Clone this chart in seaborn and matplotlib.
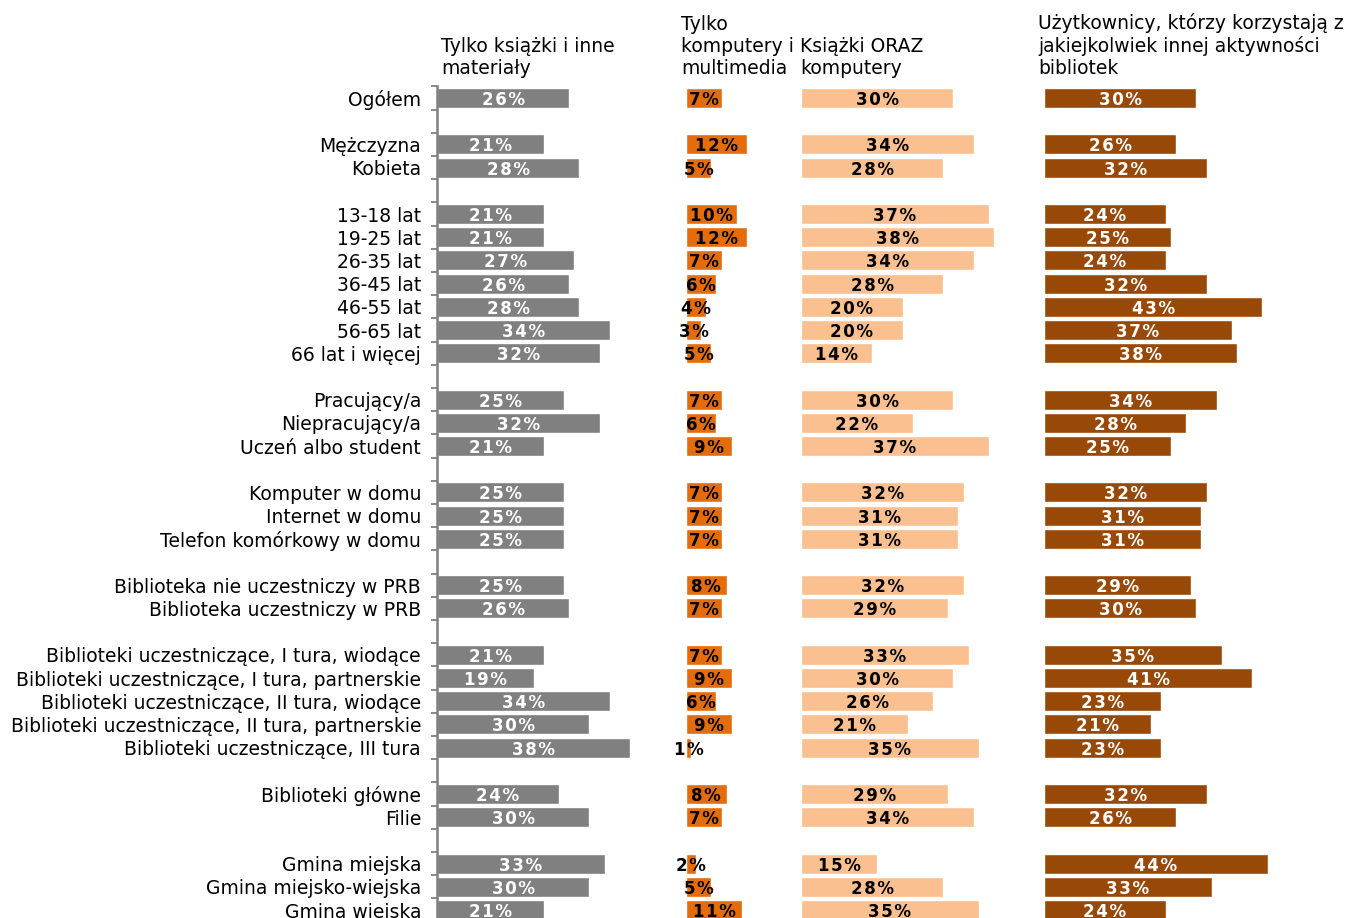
import numpy as np
import pandas as pd
import seaborn as sns
import matplotlib.pyplot as plt

# Row labels, "" marks an empty spacer row
categories = [
    "Ogółem", "",
    "Mężczyzna", "Kobieta", "",
    "13-18 lat", "19-25 lat", "26-35 lat", "36-45 lat", "46-55 lat", "56-65 lat", "66 lat i więcej", "",
    "Pracujący/a", "Niepracujący/a", "Uczeń albo student", "",
    "Komputer w domu", "Internet w domu", "Telefon komórkowy w domu", "",
    "Biblioteka nie uczestniczy w PRB", "Biblioteka uczestniczy w PRB", "",
    "Biblioteki uczestniczące, I tura, wiodące", "Biblioteki uczestniczące, I tura, partnerskie",
    "Biblioteki uczestniczące, II tura, wiodące", "Biblioteki uczestniczące, II tura, partnerskie",
    "Biblioteki uczestniczące, III tura", "",
    "Biblioteki główne", "Filie", "",
    "Gmina miejska", "Gmina miejsko-wiejska", "Gmina wiejska",
]

books_only = [26, None, 21, 28, None, 21, 21, 27, 26, 28, 34, 32, None, 25, 32, 21, None,
              25, 25, 25, None, 25, 26, None, 21, 19, 34, 30, 38, None, 24, 30, None, 33, 30, 21]
computers_only = [7, None, 12, 5, None, 10, 12, 7, 6, 4, 3, 5, None, 7, 6, 9, None,
                  7, 7, 7, None, 8, 7, None, 7, 9, 6, 9, 1, None, 8, 7, None, 2, 5, 11]
books_and_computers = [30, None, 34, 28, None, 37, 38, 34, 28, 20, 20, 14, None, 30, 22, 37, None,
                       32, 31, 31, None, 32, 29, None, 33, 30, 26, 21, 35, None, 29, 34, None, 15, 28, 35]
other_activity = [30, None, 26, 32, None, 24, 25, 24, 32, 43, 37, 38, None, 34, 28, 25, None,
                  32, 31, 31, None, 29, 30, None, 35, 41, 23, 21, 23, None, 32, 26, None, 44, 33, 24]

panel_titles = [
    "Tylko książki i inne\nmateriały",
    "Tylko\nkomputery i\nmultimedia",
    "Książki ORAZ\nkomputery",
    "Użytkownicy, którzy korzystają z\njakiejkolwiek innej aktywności\nbibliotek",
]
panel_colors = ["#808080", "#E46C0A", "#FAC090", "#984807"]
label_colors = ["white", "black", "black", "white"]


def spaced(txt):
    # imitate the letter spacing of the original labels
    return "\u200a".join(txt)


def _main():
    W, H = 1348, 918
    fig = plt.figure(figsize=(W / 100, H / 100), dpi=100)
    sns.set_style("white")
    plt.rcParams["font.family"] = ["DejaVu Sans"]

    keys = [c if c else f"_gap{i}" for i, c in enumerate(categories)]
    df = pd.DataFrame({
        "key": keys,
        "p0": books_only,
        "p1": computers_only,
        "p2": books_and_computers,
        "p3": other_activity,
    })

    n = len(keys)
    px_per_pct = 5.08
    row_px = 23.2
    top_px = 98 - row_px / 2
    # panel left edge (px) and width (px)
    panels = [(437, 240), (686, 110), (801, 230), (1044, 300)]
    title_x = [441, 681, 800, 1038]
    bottom_row = (H - top_px) / row_px - 0.5

    for i, (left, width) in enumerate(panels):
        ax = fig.add_axes([left / W, 0, width / W, (H - top_px) / H])
        col = f"p{i}"
        sns.barplot(data=df.dropna(subset=[col]), x=col, y="key", order=keys,
                    color=panel_colors[i], saturation=1, width=0.87,
                    edgecolor="white", linewidth=1, orient="h", ax=ax)
        ax.set_xlabel("")
        ax.set_ylabel("")
        ax.set_xticks([])
        for s in ["top", "right", "bottom", "left"]:
            ax.spines[s].set_visible(False)

        for j, v in enumerate(df[col]):
            if pd.isna(v):
                continue
            ax.text(v / 2, j, spaced(f"{int(v)}%"), ha="center", va="center_baseline",
                    fontsize=12, fontweight="bold", color=label_colors[i])

        if i == 0:
            ax.spines["left"].set_visible(True)
            ax.spines["left"].set_color("#808080")
            ax.spines["left"].set_linewidth(1.8)
            ax.set_yticks(range(n))
            ax.set_yticklabels(categories, fontsize=13.5, color="black")
            ax.set_yticks(np.arange(-0.5, n, 1), minor=True)
            ax.tick_params(axis="y", which="major", length=0, pad=11.5)
            ax.tick_params(axis="y", which="minor", length=4.5, width=1.3,
                           color="#808080", direction="out", left=True)
        else:
            ax.set_yticks([])

        ax.set_xlim(0, width / px_per_pct)
        ax.set_ylim(bottom_row, -0.5)

        fig.text(title_x[i] / W, (H - 78) / H, panel_titles[i], ha="left", va="bottom",
                 fontsize=13.5, linespacing=1.2, color="black")

    fig.savefig("out.png", dpi=100)
    plt.close(fig)


if __name__ == "__main__":
    _main()
